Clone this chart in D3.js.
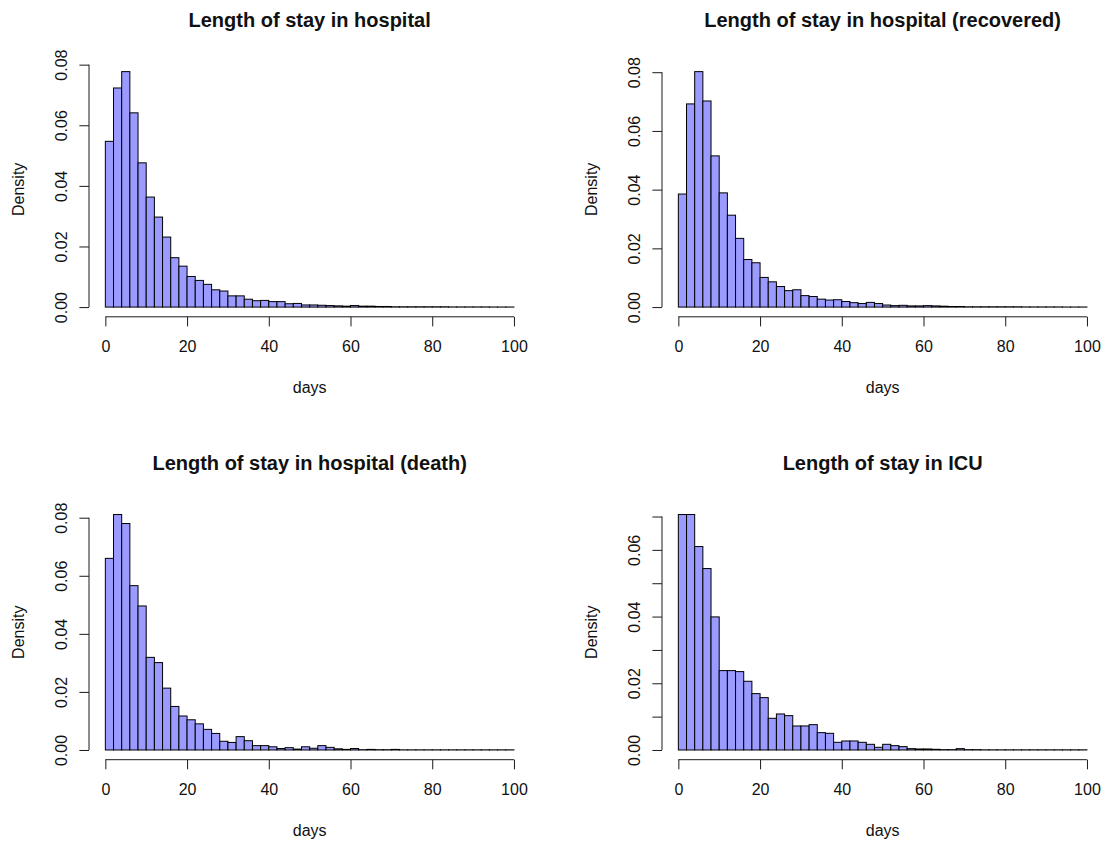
<!DOCTYPE html>
<html>
<head>
<meta charset="utf-8">
<script src="https://cdn.jsdelivr.net/npm/d3@7"></script>
<style>
  html, body { margin: 0; padding: 0; background: #fff; }
  svg { display: block; font-family: "Liberation Sans", Arial, Helvetica, sans-serif; }
</style>
</head>
<body>
<svg id="chart" width="1105" height="843"></svg>
<script>
// Histogram bins: 2-day wide, from 0 to 100 days
const binEdges = d3.range(0, 101, 2);

const titles = [
  "Length of stay in hospital",
  "Length of stay in hospital (recovered)",
  "Length of stay in hospital (death)",
  "Length of stay in ICU"
];

// Density per 2-day bin
const densityAll = [
  0.0547, 0.0723, 0.0777, 0.0641, 0.0476, 0.0363, 0.0297, 0.0231, 0.0163, 0.0135,
  0.0101, 0.0088, 0.0075, 0.0057, 0.0053, 0.0037, 0.0037, 0.0026, 0.0021, 0.0022,
  0.0018, 0.0018, 0.0011, 0.0012, 0.0007, 0.0007, 0.0006, 0.0005, 0.0004, 0.0003,
  0.0005, 0.0003, 0.0003, 0.0002, 0.0002, 0.0001, 0.0001, 0.0001, 0.0001, 0.0001,
  0.0001, 0.0001, 0.00005, 0.00005, 0.00005, 0.00005, 0.00005, 0.00003, 0.00003, 0.00003
];

const densityRecovered = [
  0.0385, 0.0692, 0.0802, 0.0702, 0.0515, 0.0389, 0.0313, 0.0234, 0.0162, 0.0151,
  0.0101, 0.0086, 0.0070, 0.0056, 0.0059, 0.0039, 0.0036, 0.0027, 0.0024, 0.0025,
  0.0019, 0.0015, 0.0012, 0.0016, 0.0012, 0.0007, 0.0005, 0.0006, 0.0004, 0.0004,
  0.0005, 0.0004, 0.0003, 0.0002, 0.0002, 0.0001, 0.0001, 0.0001, 0.0001, 0.0001,
  0.0001, 0.0001, 0.00005, 0.00005, 0.00005, 0.00005, 0.00005, 0.00003, 0.00003, 0.00003
];

const densityDeath = [
  0.0660, 0.0811, 0.0780, 0.0566, 0.0496, 0.0319, 0.0301, 0.0213, 0.0150, 0.0117,
  0.0104, 0.0090, 0.0071, 0.0057, 0.0030, 0.0026, 0.0046, 0.0032, 0.0015, 0.0015,
  0.0011, 0.0005, 0.0008, 0.0003, 0.0011, 0.0006, 0.0015, 0.0009, 0.0004, 0.0002,
  0.0005, 0.0001, 0.0002, 0.0001, 0.0001, 0.0002, 0.00005, 0.00005, 0.00005, 0.00005,
  0.00005, 0.00005, 0.00005, 0.00005, 0.00005, 0.00005, 0.00005, 0.00005, 0.00005, 0.00005
];

const densityICU = [
  0.0706, 0.0706, 0.0610, 0.0544, 0.0399, 0.0238, 0.0238, 0.0235, 0.0206, 0.0169,
  0.0157, 0.0095, 0.0108, 0.0103, 0.0072, 0.0072, 0.0076, 0.0052, 0.0050, 0.0023,
  0.0027, 0.0027, 0.0023, 0.0017, 0.0008, 0.0017, 0.0013, 0.0010, 0.0004, 0.0003,
  0.0003, 0.0002, 0.0001, 0.0001, 0.0004, 0.0001, 0.0001, 0.00005, 0.00005, 0.00005,
  0.00005, 0.00005, 0.00005, 0.00005, 0.00005, 0.00005, 0.00005, 0.00005, 0.00005, 0.00005
];

const xTicks = [0, 20, 40, 60, 80, 100];
const yTicksStd = [0, 0.02, 0.04, 0.06, 0.08];
const yTicksICU = [0, 0.01, 0.02, 0.03, 0.04, 0.05, 0.06, 0.07];
const yLabelsICU = [0, 0.02, 0.04, 0.06];

const xLabel = "days";
const yLabel = "Density";

// Plot regions (inner data area)
const layout = [
  { left: 89,  top: 62.2,  width: 441.3, height: 254.3 },
  { left: 662, top: 62.2,  width: 441.3, height: 254.3 },
  { left: 89,  top: 505.1, width: 441.3, height: 254.3 },
  { left: 662, top: 505.1, width: 441.3, height: 254.3 }
];

const panels = [
  { title: titles[0], values: densityAll,       yTicks: yTicksStd, yLabels: yTicksStd },
  { title: titles[1], values: densityRecovered, yTicks: yTicksStd, yLabels: yTicksStd },
  { title: titles[2], values: densityDeath,     yTicks: yTicksStd, yLabels: yTicksStd },
  { title: titles[3], values: densityICU,       yTicks: yTicksICU, yLabels: yLabelsICU }
];

const svg = d3.select("#chart");
const fmt = d3.format(".2f");
const barFill = "#9a9aff";
const ink = "#1a1a1a";
const tickLen = 9.6;

panels.forEach((p, i) => {
  const L = layout[i];
  const bottom = L.top + L.height;
  const right = L.left + L.width;

  // Axis ranges padded by 4% on both ends
  const x = d3.scaleLinear().domain([-4, 104]).range([L.left, right]);
  const ymax = d3.max(p.values);
  const y = d3.scaleLinear().domain([-0.04 * ymax, 1.04 * ymax]).range([bottom, L.top]);

  const g = svg.append("g");

  // Bars
  g.append("g")
    .selectAll("rect")
    .data(p.values)
    .join("rect")
    .attr("x", (d, k) => x(binEdges[k]))
    .attr("width", (d, k) => x(binEdges[k + 1]) - x(binEdges[k]))
    .attr("y", d => y(d))
    .attr("height", d => y(0) - y(d))
    .attr("fill", barFill)
    .attr("stroke", "#000")
    .attr("stroke-width", 1);

  // X axis
  const xAxisY = bottom + 0.3;
  const xAxis = d3.axisBottom(x).tickValues(xTicks).tickSize(tickLen).tickSizeOuter(0).tickFormat(d3.format("d"));
  const xg = g.append("g").attr("transform", `translate(0,${xAxisY})`).call(xAxis);
  xg.select(".domain").remove();
  xg.append("line")
    .attr("x1", x(xTicks[0])).attr("x2", x(xTicks[xTicks.length - 1]))
    .attr("y1", 0).attr("y2", 0)
    .attr("stroke", ink);
  xg.selectAll(".tick line").attr("stroke", ink);
  xg.selectAll(".tick text")
    .attr("y", 35).attr("dy", null)
    .attr("fill", "#111")
    .style("font-size", "16px");

  // Y axis
  const yAxis = d3.axisLeft(y).tickValues(p.yTicks).tickSize(tickLen).tickSizeOuter(0)
    .tickFormat(d => p.yLabels.some(v => Math.abs(v - d) < 1e-9) ? fmt(d) : "");
  const yg = g.append("g").attr("transform", `translate(${L.left},0)`).call(yAxis);
  yg.select(".domain").remove();
  yg.append("line")
    .attr("x1", 0).attr("x2", 0)
    .attr("y1", y(p.yTicks[0])).attr("y2", y(p.yTicks[p.yTicks.length - 1]))
    .attr("stroke", ink);
  yg.selectAll(".tick line").attr("stroke", ink);
  yg.selectAll(".tick text")
    .attr("x", null).attr("dy", null)
    .attr("transform", "translate(-22.3,0) rotate(-90)")
    .attr("text-anchor", "middle")
    .attr("fill", "#111")
    .style("font-size", "16px");

  // Title, centred over the plot region
  g.append("text")
    .attr("x", (L.left + right) / 2)
    .attr("y", L.top - 35)
    .attr("text-anchor", "middle")
    .style("font-size", "20px")
    .style("font-weight", "bold")
    .attr("fill", "#111")
    .text(p.title);

  // Axis titles
  g.append("text")
    .attr("x", (L.left + right) / 2)
    .attr("y", bottom + 76.5)
    .attr("text-anchor", "middle")
    .style("font-size", "16px")
    .attr("fill", "#111")
    .text(xLabel);

  g.append("text")
    .attr("transform", `translate(${L.left - 65},${(L.top + bottom) / 2}) rotate(-90)`)
    .attr("text-anchor", "middle")
    .style("font-size", "16px")
    .attr("fill", "#111")
    .text(yLabel);
});
</script>
</body>
</html>
